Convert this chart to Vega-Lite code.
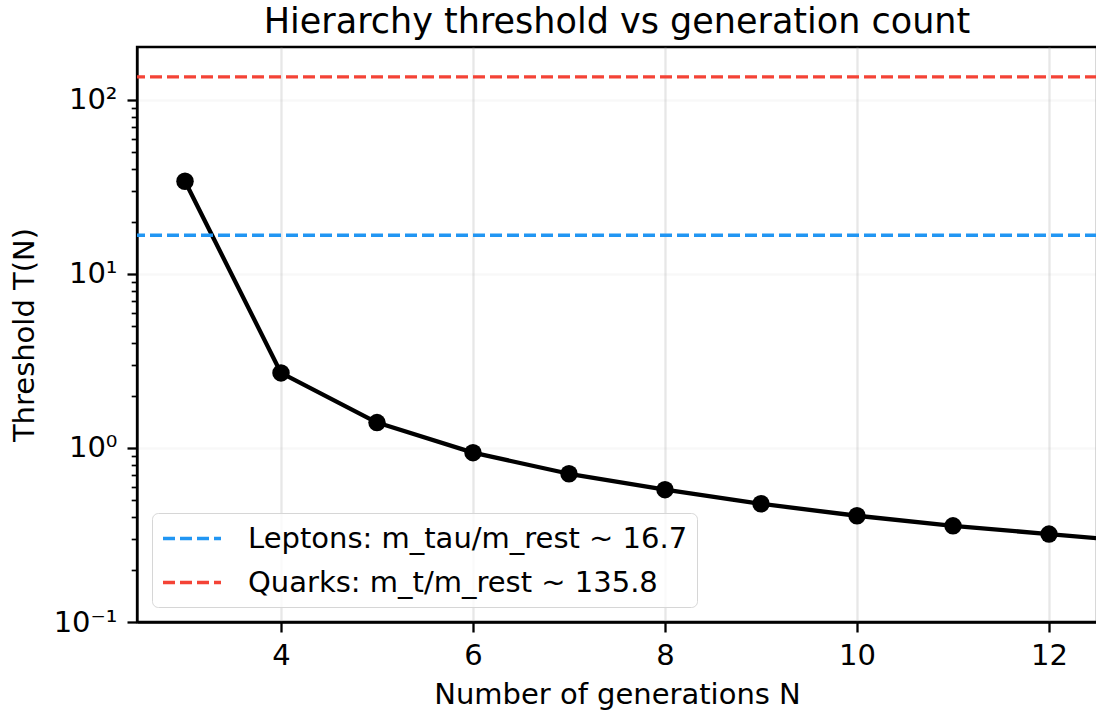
{
  "$schema": "https://vega.github.io/schema/vega-lite/v6.json",
  "width": 960,
  "height": 575,
  "autosize": {"type": "none"},
  "padding": {"left": 137, "top": 47, "right": 0, "bottom": 91},
  "background": "white",
  "title": {
    "text": "Hierarchy threshold vs generation count",
    "font": "DejaVu Sans",
    "fontSize": 35,
    "fontWeight": "normal",
    "color": "black",
    "anchor": "middle",
    "frame": "group",
    "offset": 7
  },
  "config": {
    "view": {"stroke": "black", "strokeWidth": 2.3},
    "axis": {
      "domainColor": "black",
      "domainWidth": 2.3,
      "tickColor": "black",
      "tickWidth": 2.3,
      "tickSize": 10,
      "gridColor": "#b0b0b0",
      "gridOpacity": 0.3,
      "gridWidth": 2.3,
      "labelFont": "DejaVu Sans",
      "labelFontSize": 29,
      "labelColor": "black",
      "labelPadding": 9,
      "titleFont": "DejaVu Sans",
      "titleFontSize": 29,
      "titleFontWeight": "normal",
      "titleColor": "black"
    }
  },
  "datasets": {
    "curve": [
      {"N": 3, "T": 34.1},
      {"N": 4, "T": 2.70},
      {"N": 5, "T": 1.40},
      {"N": 6, "T": 0.94},
      {"N": 7, "T": 0.711},
      {"N": 8, "T": 0.576},
      {"N": 9, "T": 0.478},
      {"N": 10, "T": 0.408},
      {"N": 11, "T": 0.357},
      {"N": 12, "T": 0.320},
      {"N": 13, "T": 0.287}
    ],
    "refs": [
      {"label": "Leptons: m_tau/m_rest ~ 16.7", "T": 16.7},
      {"label": "Quarks: m_t/m_rest ~ 135.8", "T": 135.8}
    ]
  },
  "encoding": {
    "y": {
      "field": "T",
      "type": "quantitative",
      "title": "Threshold T(N)",
      "scale": {"type": "log", "domain": [0.1, 201.6], "nice": false},
      "axis": {
        "values": [0.1, 0.2, 0.3, 0.4, 0.5, 0.6, 0.7, 0.8, 0.9, 1, 2, 3, 4, 5, 6, 7, 8, 9, 10, 20, 30, 40, 50, 60, 70, 80, 90, 100],
        "labelExpr": "datum.value == 100 ? '10²' : datum.value == 10 ? '10¹' : datum.value == 1 ? '10⁰' : datum.value == 0.1 ? '10⁻¹' : ''",
        "labelOverlap": false,
        "labelFlush": false,
        "labelPadding": 10,
        "titlePadding": 14,
        "tickSize": {"condition": {"test": "indexof([0.1, 1, 10, 100], datum.value) >= 0", "value": 10}, "value": 5.8},
        "tickWidth": {"condition": {"test": "indexof([0.1, 1, 10, 100], datum.value) >= 0", "value": 2.3}, "value": 1.7},
        "gridOpacity": {"condition": {"test": "indexof([0.1, 1, 10, 100], datum.value) >= 0", "value": 0.3}, "value": 0}
      }
    }
  },
  "layer": [
    {
      "data": {"name": "curve"},
      "mark": {"type": "line", "color": "black", "strokeWidth": 4.3, "clip": true, "strokeJoin": "round"},
      "encoding": {
        "x": {
          "field": "N",
          "type": "quantitative",
          "title": "Number of generations N",
          "scale": {"domain": [2.5, 12.5], "nice": false, "zero": false},
          "axis": {"values": [4, 6, 8, 10, 12], "format": "d", "labelFlush": false, "titlePadding": 10}
        }
      }
    },
    {
      "data": {"name": "curve"},
      "mark": {"type": "point", "filled": true, "color": "black", "opacity": 1, "size": 306, "clip": true},
      "encoding": {
        "x": {"field": "N", "type": "quantitative"}
      }
    },
    {
      "data": {"name": "refs"},
      "mark": {"type": "rule", "strokeWidth": 3.3, "strokeDash": [12, 5]},
      "encoding": {
        "color": {
          "field": "label",
          "type": "nominal",
          "scale": {
            "domain": ["Leptons: m_tau/m_rest ~ 16.7", "Quarks: m_t/m_rest ~ 135.8"],
            "range": ["#2196f3", "#f44336"]
          },
          "legend": {
            "title": null,
            "orient": "bottom-left",
            "offset": 15,
            "symbolType": "M-1,0H3",
            "symbolSize": 841,
            "symbolStrokeWidth": 3.3,
            "symbolDash": [12, 5],
            "symbolFillColor": "transparent",
            "labelFont": "DejaVu Sans",
            "labelFontSize": 29,
            "labelColor": "black",
            "labelOffset": 54,
            "labelLimit": 0,
            "padding": 9,
            "rowPadding": 12,
            "fillColor": "rgba(255,255,255,0.8)",
            "strokeColor": "#d6d6d6",
            "cornerRadius": 6
          }
        }
      }
    }
  ]
}
